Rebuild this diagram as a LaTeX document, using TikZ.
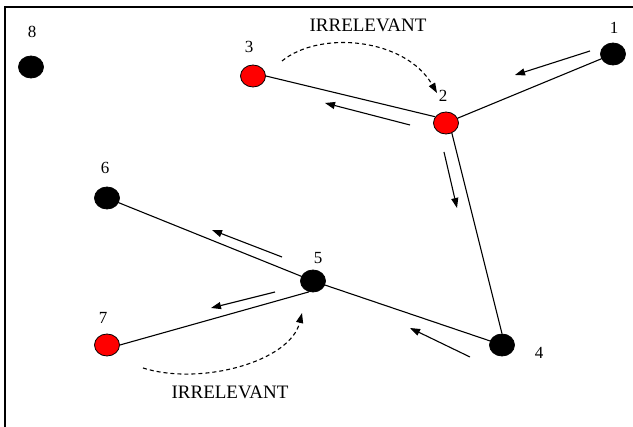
\documentclass[tikz,border=0pt]{standalone}
\usepackage{fontspec}
\setmainfont{Liberation Serif}
\usetikzlibrary{shapes.geometric,arrows.meta}
\definecolor{hot}{HTML}{FF0000}
\tikzset{
  vtx/.style={ellipse, draw=black, line width=0.8pt, fill=black, minimum width=25pt, minimum height=22pt, inner sep=0pt},
  redvtx/.style={vtx, fill=hot},
  edge/.style={line width=1.1pt, draw=black},
  flow/.style={line width=1.1pt, -{Triangle[length=10pt,width=7pt]}},
  skip/.style={line width=1.1pt, dash pattern=on 4pt off 3pt, -{Triangle[length=10pt,width=7pt]}},
  num/.style={font=\fontsize{17}{19}\selectfont},
  note/.style={font=\fontsize{19}{21}\selectfont},
}
\begin{document}
\begin{tikzpicture}[x=1pt,y=-1pt]
  \useasboundingbox (0,0) rectangle (633,427);

  % frame, top and left only
  \draw[line width=1.5pt] (633,7) -- (5,7) -- (5,427);

  % vertices
  \node[vtx]    (n1) at (613,54)  {};
  \node[redvtx] (n2) at (446,123) {};
  \node[redvtx] (n3) at (253,76)  {};
  \node[vtx]    (n4) at (502,345) {};
  \node[vtx]    (n5) at (313,281) {};
  \node[vtx]    (n6) at (107,198) {};
  \node[redvtx] (n7) at (107,345) {};
  \node[vtx]    (n8) at (31,67)   {};

  % numbers
  \node[num] (l1) at (614,28)  {1};
  \node[num] (l2) at (443,96)  {2};
  \node[num] (l3) at (249,47)  {3};
  \node[num] (l4) at (539,353) {4};
  \node[num] (l5) at (318,258) {5};
  \node[num] (l6) at (105,168) {6};
  \node[num] (l7) at (103,318) {7};
  \node[num] (l8) at (32,32)   {8};

  % tree edges
  \draw[edge] (n1) -- (n2);
  \draw[edge] (n2.150) -- (n3.east);
  \draw[edge] (n2.300) -- (n4.north);
  \draw[edge] (n4) -- (n5);
  \draw[edge] (n5) -- (n6);
  \draw[edge] (n5.250) -- (n7.east);

  % flow arrows beside the edges
  \coordinate (f12s) at (590,51);
  \coordinate (f12e) at (515,75);
  \coordinate (f23s) at (410,125);
  \coordinate (f23e) at (325,103);
  \coordinate (f24s) at (444,152);
  \coordinate (f24e) at (457,208);
  \coordinate (f45s) at (470,357);
  \coordinate (f45e) at (410,328);
  \coordinate (f56s) at (282,257);
  \coordinate (f56e) at (212,230);
  \coordinate (f57s) at (275,292);
  \coordinate (f57e) at (211,308);
  \draw[flow] (f12s) -- (f12e);
  \draw[flow] (f23s) -- (f23e);
  \draw[flow] (f24s) -- (f24e);
  \draw[flow] (f45s) -- (f45e);
  \draw[flow] (f56s) -- (f56e);
  \draw[flow] (f57s) -- (f57e);

  % irrelevant branches
  \coordinate (s3s) at (282,61);
  \coordinate (s3e) at (437,93);
  \coordinate (s7s) at (143,368);
  \coordinate (s7e) at (302,313);
  \draw[skip] (s3s) .. controls (320,30) and (405,38) .. (s3e);
  \draw[skip] (s7s) .. controls (200,386) and (290,362) .. (s7e);

  \node[note] (t3) at (368,25)  {IRRELEVANT};
  \node[note] (t7) at (230,392) {IRRELEVANT};
\end{tikzpicture}
\end{document}
